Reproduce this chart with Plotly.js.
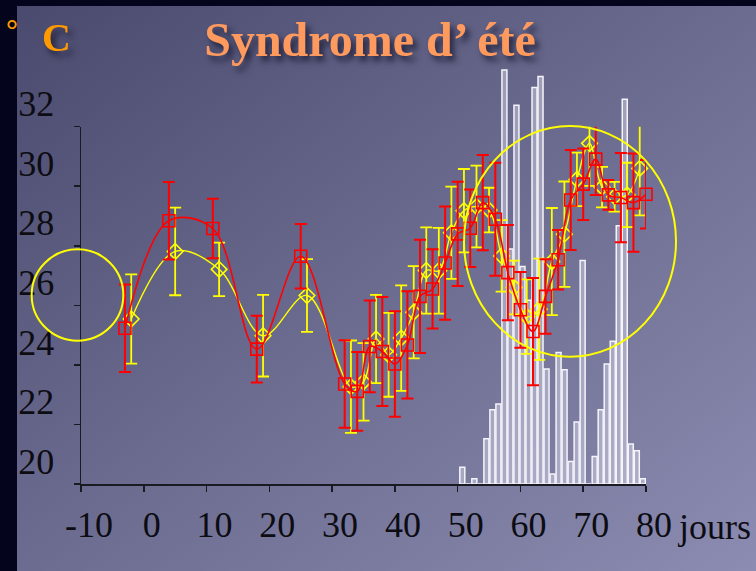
<!DOCTYPE html>
<html>
<head>
<meta charset="utf-8">
<script src="https://cdn.plot.ly/plotly-3.0.1.min.js"></script>
<style>
  html, body { margin:0; padding:0; background:#04041c; width:756px; height:571px; overflow:hidden; }
  #bg { position:absolute; left:17px; top:6px; width:739px; height:565px;
        background: linear-gradient(to bottom right, #4a4a6e 0%, #6c6c90 50%, #8c8cb2 100%); }
  #plot { position:absolute; left:0; top:0; width:756px; height:571px; }
  .gtitle, .annotation.shadowed { filter: drop-shadow(4px 5px 3px rgba(25,25,50,0.85)); }
</style>
</head>
<body>
<div id="bg"></div>
<div id="plot"></div>
<script>
// ---- data ----
const redDays = [-3, 4, 11, 18, 25, 32, 34, 36, 38, 40, 42, 44, 46, 48, 50, 52, 54, 56, 58, 60, 62, 64, 66, 68, 70, 72, 74, 76, 78, 80];
const redTemp = [25.23, 28.84, 28.58, 24.53, 27.65, 23.36, 23.11, 24.62, 24.45, 24.03, 24.67, 26.3, 26.55, 27.42, 28.40, 28.59, 29.45, 28.89, 27.1, 25.85, 25.12, 26.3, 27.53, 29.54, 30.07, 30.91, 29.71, 29.62, 29.45, 29.73];
const redErr  = [1.47, 1.3, 1.0, 1.12, 1.08, 1.47, 1.32, 1.54, 1.83, 1.77, 1.8, 1.9, 1.33, 1.9, 1.75, 1.3, 1.6, 1.9, 1.6, 1.27, 1.8, 1.25, 1.0, 1.68, 1.2, 1.2, 0.5, 1.5, 1.65, 1.15];

const yellowDays = [-2, 5, 12, 19, 26, 33, 35, 37, 39, 41, 43, 45, 47, 49, 51, 53, 55, 57, 59, 61, 63, 65, 67, 69, 71, 73, 75, 77, 79];
const yellowTemp = [25.54, 27.81, 27.21, 24.98, 26.33, 23.27, 23.43, 24.87, 24.34, 24.9, 25.77, 27.17, 27.16, 28.44, 29.18, 29.32, 29.2, 27.66, 26.6, 25.62, 25.87, 27.47, 28.39, 30.23, 31.44, 29.97, 29.65, 29.71, 30.6];
const yellowErr  = [1.5, 1.47, 0.9, 1.37, 1.22, 1.55, 1.3, 1.48, 1.41, 1.77, 1.55, 1.45, 1.44, 1.55, 1.4, 1.37, 0.75, 1.2, 0.9, 1.25, 1.7, 1.8, 1.77, 0.9, 1.43, 0.68, 0.5, 1.08, 1.58];

const histDays = [50, 51, 52, 53, 54, 55, 56, 57, 58, 59, 60, 61, 62, 63, 64, 65, 66, 67, 68, 69, 70, 71, 72, 73, 74, 75, 76, 77, 78, 79, 80];
const histCounts = [4.2, 0, 1.3, 0, 11.3, 18.6, 20, 103.6, 58.8, 94.8, 54.4, 46, 99.2, 102, 28.8, 2.5, 32.9, 28.6, 5.6, 15.5, 55.9, 0, 6.9, 18.6, 30, 35.7, 64.6, 96.3, 10, 8.3, 1.3];

const xTickVals = [-10, 0, 10, 20, 30, 40, 50, 60, 70, 80];
const xTickText = ['-10', '0', '10', '20', '30', '40', '50', '60', '70', '80'];
const yTickVals = [20, 22, 24, 26, 28, 30, 32];
const yTickText = ['20', '22', '24', '26', '28', '30', '32'];

const serif = 'Liberation Serif, Times New Roman, serif';

const traces = [
  {
    type: 'bar', x: histDays, y: histCounts, xaxis: 'x', yaxis: 'y',
    width: 0.83,
    marker: { color: 'rgba(225,225,240,0.45)', line: { color: '#f4f4fa', width: 1.5 } },
    hoverinfo: 'skip', showlegend: false
  },
  {
    type: 'scatter', mode: 'lines+markers', x: yellowDays, y: yellowTemp, xaxis: 'x2', yaxis: 'y2',
    line: { color: '#ffff00', width: 1.4, shape: 'spline', smoothing: 1 },
    marker: { symbol: 'diamond-open', size: 12, color: '#ffff00', line: { color: '#ffff00', width: 1.6 } },
    error_y: { type: 'data', array: yellowErr, visible: true, color: '#ffff00', thickness: 1.8, width: 6 },
    cliponaxis: false, showlegend: false
  },
  {
    type: 'scatter', mode: 'lines+markers', x: redDays, y: redTemp, xaxis: 'x2', yaxis: 'y2',
    line: { color: '#ff0000', width: 1.6, shape: 'spline', smoothing: 1 },
    marker: { symbol: 'square-open', size: 12, color: '#ff0000', line: { color: '#ff0000', width: 1.6 } },
    error_y: { type: 'data', array: redErr, visible: true, color: '#ff0000', thickness: 2, width: 6 },
    cliponaxis: false, showlegend: false
  }
];

const layout = {
  width: 756, height: 571,
  margin: { l: 81, r: 110, t: 60, b: 87 },
  paper_bgcolor: 'rgba(0,0,0,0)',
  plot_bgcolor: 'rgba(0,0,0,0)',
  showlegend: false,
  title: {
    text: 'Syndrome d\u2019 été',
    font: { family: serif, size: 48, color: '#ff9a5e', weight: 'bold' },
    x: 0.4894, xanchor: 'center', xref: 'container',
    y: 0.931, yanchor: 'middle', yref: 'container'
  },
  xaxis: { domain: [0, 1], range: [-13.37, 80.53], visible: false, anchor: 'y', fixedrange: true },
  yaxis: { domain: [0, 1], range: [0, 106.1], visible: false, anchor: 'x', fixedrange: true },
  xaxis2: {
    domain: [0, 1], range: [-10, 80], anchor: 'y2',
    showline: true, linecolor: '#1a1a22', linewidth: 1.5,
    ticks: 'outside', ticklen: 6, tickwidth: 1.5, tickcolor: '#1a1a22',
    tickmode: 'array', tickvals: xTickVals, ticktext: xTickText,
    tickfont: { family: serif, size: 36, color: '#0c0c12' },
    ticklabelstandoff: 2, ticklabelshift: 8,
    showgrid: false, zeroline: false, fixedrange: true
  },
  yaxis2: {
    domain: [0, 0.8427], range: [20, 32], anchor: 'x2',
    showline: true, linecolor: '#1a1a22', linewidth: 1.5,
    ticks: 'outside', ticklen: 6, tickwidth: 1.5, tickcolor: '#1a1a22',
    tickmode: 'array', tickvals: yTickVals, ticktext: yTickText,
    tickfont: { family: serif, size: 36, color: '#0c0c12' },
    ticklabelstandoff: 12, ticklabelshift: -23,
    showgrid: false, zeroline: false, fixedrange: true
  },
  shapes: [
    { type: 'circle', xref: 'paper', yref: 'paper', x0: -0.0873, x1: 0.0749, y0: 0.338, y1: 0.5535,
      line: { color: '#ffff00', width: 2 }, layer: 'above' },
    { type: 'circle', xref: 'paper', yref: 'paper', x0: 0.6779, x1: 1.0531, y0: 0.3002, y1: 0.8443,
      line: { color: '#ffff00', width: 2 }, layer: 'above' }
  ],
  annotations: [
    { text: 'C', xref: 'paper', yref: 'paper', x: -0.043, y: 1.053, xanchor: 'center', yanchor: 'middle',
      showarrow: false, font: { family: serif, size: 40, color: '#ff9900', weight: 'bold' } },
    { text: '°', xref: 'paper', yref: 'paper', x: -0.1221, y: 1.0708, xanchor: 'center', yanchor: 'middle',
      showarrow: false, font: { family: serif, size: 30, color: '#ff9900', weight: 'bold' } },
    { text: 'jours', xref: 'paper', yref: 'paper', x: 1.0513, y: -0.1014, xanchor: 'left', yanchor: 'middle',
      showarrow: false, font: { family: serif, size: 36, color: '#0c0c12' } }
  ]
};

Plotly.newPlot('plot', traces, layout, { displayModeBar: false, staticPlot: true }).then(() => {
  const anns = document.querySelectorAll('.annotation');
  if (anns.length) anns[0].classList.add('shadowed');
});
</script>
</body>
</html>
